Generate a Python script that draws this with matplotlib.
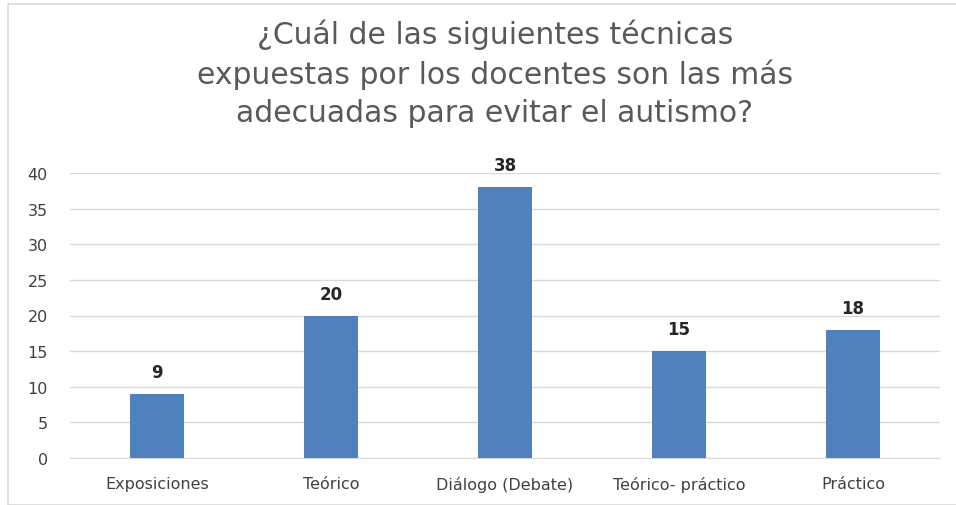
import matplotlib
matplotlib.use("Agg")
import matplotlib.pyplot as plt
from matplotlib.patches import Rectangle

categories = ["Exposiciones", "Teórico", "Diálogo (Debate)", "Teórico- práctico", "Práctico"]
values = [9, 20, 38, 15, 18]
yticks = [0, 5, 10, 15, 20, 25, 30, 35, 40]
title = "¿Cuál de las siguientes técnicas\nexpuestas por los docentes son las más\nadecuadas para evitar el autismo?"

fig = plt.figure(figsize=(9.56, 5.06), dpi=100)
fig.patches.append(Rectangle((8/956, 0), 1, 1 - 5/506, transform=fig.transFigure,
                             fill=False, edgecolor="#d9d9d9", linewidth=1.2))
ax = fig.add_axes([70/956, 1 - 459/506, 870/956, (459 - 174)/506])

x = range(len(categories))
ax.bar(x, values, width=0.31, color="#4f81bd", zorder=3)
for xi, v in zip(x, values):
    ax.text(xi, v + 1.8, str(v), ha="center", va="bottom", fontsize=12,
            color="#262626", fontweight="bold", family="DejaVu Sans")

ax.set_xlim(-0.5, len(categories) - 0.5)
ax.set_ylim(0, 40)
ax.set_yticks(yticks)
ax.set_xticks(list(x))
ax.set_xticklabels(categories, fontsize=11.5, color="#404040", family="DejaVu Sans")
ax.tick_params(axis="y", labelsize=11.5, labelcolor="#404040", length=0, pad=16)
ax.tick_params(axis="x", length=0, pad=13)
ax.grid(axis="y", color="#d9d9d9", linewidth=1, zorder=0)
for s in ["top", "right", "left"]:
    ax.spines[s].set_visible(False)
ax.spines["bottom"].set_color("#d9d9d9")

fig.text(495/956, 1 - 20/506, title, ha="center", va="top", fontsize=21.5,
         color="#595959", family="DejaVu Sans", linespacing=1.38)

fig.savefig("out.png", dpi=100)
